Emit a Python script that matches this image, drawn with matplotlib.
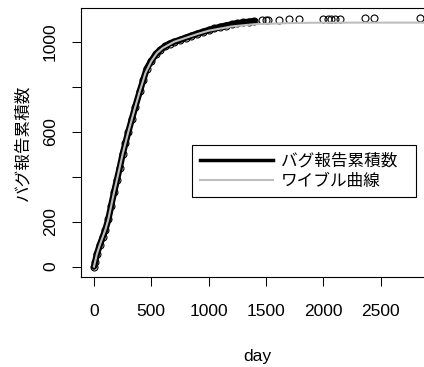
import matplotlib
matplotlib.use("Agg")
import matplotlib.pyplot as plt
from matplotlib.lines import Line2D

plt.rcParams['font.family'] = ['Liberation Sans', 'Noto Sans CJK JP', 'DejaVu Sans']

# cumulative bug reports (dense part)
days_obs = [0, 10, 25, 50, 75, 100, 125, 150, 175, 200, 225, 250, 275, 300, 330,
            360, 400, 430, 460, 500, 540, 580, 620, 660, 700, 750, 800, 850, 900,
            950, 1000, 1050, 1100, 1150, 1200, 1250, 1300, 1350, 1400]
bugs_obs = [0, 20, 55, 95, 130, 165, 210, 270, 330, 385, 440, 500, 550, 600, 655,
            710, 780, 830, 880, 915, 945, 965, 980, 992, 1000, 1008, 1018, 1027, 1036,
            1044, 1052, 1059, 1066, 1072, 1077, 1082, 1086, 1089, 1092]
# sparse tail points
days_tail = [1470, 1500, 1520, 1610, 1700, 1790, 2000, 2040, 2070, 2100, 2150, 2360, 2440, 2840]
bugs_tail = [1095, 1096, 1097, 1098, 1099, 1100, 1101, 1101, 1102, 1102, 1103, 1104, 1105, 1106]

# fitted Weibull curve
days_wb = [0, 25, 50, 75, 100, 125, 150, 175, 200, 250, 300, 350, 400, 450, 500, 550,
           600, 700, 800, 900, 1000, 1200, 1400, 1700, 2000, 2500, 3000]
bugs_wb = [0, 55, 95, 130, 165, 210, 270, 330, 385, 500, 600, 692, 780, 862, 913, 950,
           972, 1000, 1017, 1034, 1049, 1068, 1078, 1083, 1085, 1085, 1085]

x_ticks = [0, 500, 1000, 1500, 2000, 2500]
y_ticks = [0, 200, 400, 600, 800, 1000]
y_labels = ['0', '200', '', '600', '', '1000']

W, H = 424, 367
fig = plt.figure(figsize=(W / 100, H / 100), dpi=100)
ax = fig.add_axes([81 / W, 90 / H, 350 / W, 269 / H])

ax.plot(days_obs, bugs_obs, color='black', lw=4.6, solid_capstyle='round', zorder=2)
ax.plot(days_obs + days_tail, bugs_obs + bugs_tail, ls='none', marker='o', ms=5,
        mfc='none', mec='black', mew=0.8, zorder=3)
ax.plot(days_wb, bugs_wb, color='#bebebe', lw=1.5, zorder=4)

ax.set_xlim(-113, 2940)
ax.set_ylim(-46, 1150)
ax.set_xticks(x_ticks)
ax.set_xticklabels([str(v) for v in x_ticks])
ax.set_yticks(y_ticks)
ax.set_yticklabels(y_labels, rotation=90, va='center', ha='right')
ax.tick_params(axis='both', length=6.5, width=0.75, labelsize=12.5)
ax.tick_params(axis='x', pad=13)
ax.tick_params(axis='y', pad=10)
for s in ax.spines.values():
    s.set_linewidth(0.8)

fig.text(257 / W, 1 - 357 / H, 'day', ha='center', va='center', fontsize=12.5)
fig.text(23 / W, 1 - 143 / H, 'バグ報告累積数', rotation=90, ha='center', va='center',
         fontsize=12, family=['Noto Sans CJK JP'])

handles = [Line2D([], [], color='black', lw=2.5),
           Line2D([], [], color='#bebebe', lw=1.5)]
leg = fig.legend(handles, ['バグ報告累積数   ', 'ワイブル曲線'], loc='upper left',
                 bbox_to_anchor=(192 / W, 1 - 145 / H), borderaxespad=0,
                 fancybox=False, edgecolor='black', framealpha=1, handlelength=4.4,
                 handletextpad=0.5, borderpad=0.45, labelspacing=0.2,
                 prop={'family': 'Noto Sans CJK JP', 'size': 12})
leg.get_frame().set_linewidth(0.8)

fig.savefig('out.png', dpi=100)
